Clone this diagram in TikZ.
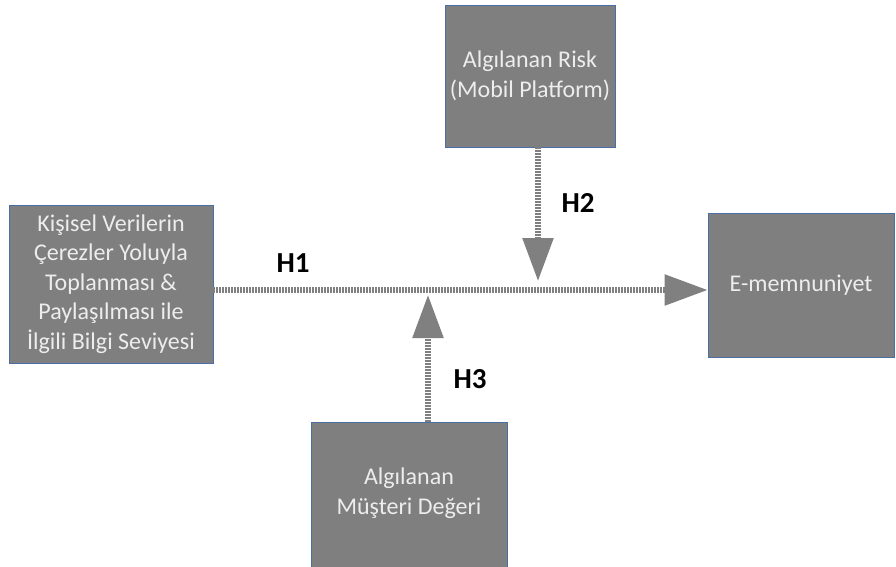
\documentclass[tikz,border=0pt]{standalone}
\usepackage{fontspec}
\setmainfont{Carlito}
\usetikzlibrary{arrows.meta}
\definecolor{boxgray}{HTML}{7F7F7F}
\definecolor{boxedge}{HTML}{4A6FA5}
\definecolor{txt}{HTML}{EDEDED}
\definecolor{arr}{HTML}{808080}
\tikzset{
  boxtext/.style={text=txt, align=center, font=\fontsize{24}{29.5}\selectfont, inner sep=0pt},
  box/.style={boxtext, rectangle, fill=boxgray, draw=boxedge, line width=0.8pt},
  conn/.style={draw=arr, line width=5.5pt, dash pattern=on 2pt off 1pt,
    -{Triangle[length=43pt,width=30pt,fill=arr,color=arr]}},
  hlab/.style={font=\fontsize{29}{32}\selectfont\bfseries, text=black, inner sep=0pt}
}
\begin{document}
\begin{tikzpicture}[x=1pt,y=-1pt]
\useasboundingbox (0,0) rectangle (896,567);
\node[box, minimum width=204pt, minimum height=158pt] (left) at (111,284)
  {Kişisel Verilerin\\Çerezler Yoluyla\\Toplanması \&\\Paylaşılması ile\\İlgili Bilgi Seviyesi};
\node[box, minimum width=170pt, minimum height=142pt] (top) at (530,76)
  {Algılanan Risk\\(Mobil Platform)};
\node[box, minimum width=196pt, minimum height=152pt] (bottom) at (409,498) {};
\node[boxtext] (bottomlabel) at (409,493) {Algılanan\\Müşteri Değeri};
\node[box, minimum width=186pt, minimum height=144pt] (right) at (801,285)
  {E-memnuniyet};
\coordinate (h1s) at (left.east |- 0,290);
\coordinate (h1e) at (right.west |- 0,290);
\coordinate (h2e) at (538,281);
\coordinate (h3e) at (428,295);
\draw[conn] (h1s) -- (h1e);
\draw[conn] (top.south -| h2e) -- (h2e);
\draw[conn] (bottom.north -| h3e) -- (h3e);
\node[hlab] (H1) at (293,263) {H1};
\node[hlab] (H2) at (578,203) {H2};
\node[hlab] (H3) at (470,379) {H3};
\end{tikzpicture}
\end{document}
